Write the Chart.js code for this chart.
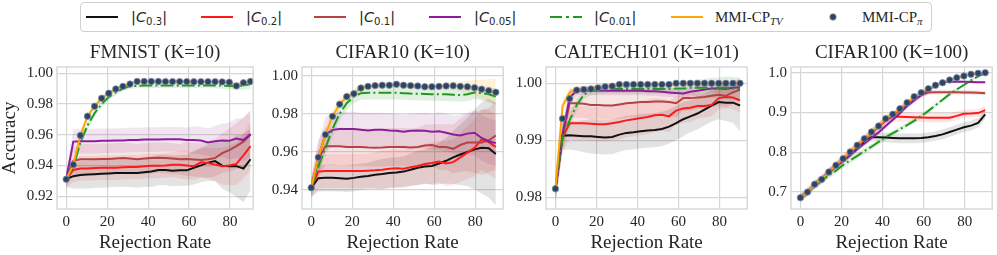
<!DOCTYPE html>
<html>
<head>
<meta charset="utf-8">
<script src="https://cdn.jsdelivr.net/npm/chart.js@4.4.1/dist/chart.umd.min.js"></script>
<style>
  body { margin: 0; background: #fff; width: 997px; height: 255px; overflow: hidden; position: relative; }
  canvas { position: absolute; }
  #legend { position: absolute; left: 80px; top: 2px; width: 850px; height: 28px; border: 1px solid #d0d0d0; border-radius: 4px; background: #fff; }
  .key { position: absolute; top: 8px; }
  .lab { position: absolute; top: 5px; font-size: 14.5px; color: #262626; white-space: nowrap; line-height: 18px; }
  .math { font-family: 'DejaVu Sans', sans-serif; }
  .math sub { font-size: 70%; vertical-align: -3px; line-height: 0; font-style: normal; }
  .serif { font-family: 'Liberation Serif', 'Times New Roman', serif; font-size: 15px; }
  .serif sub { font-size: 72%; vertical-align: -3px; line-height: 0; }
</style>
</head>
<body>
<div id="legend">
  <svg class="key" style="left:5px" width="32" height="14"><line x1="0" y1="6" x2="32" y2="6" stroke="#111" stroke-width="2"/></svg>
  <span class="lab math" style="left:50px">|<i>C</i><sub>0.3</sub>|</span>
  <svg class="key" style="left:120px" width="32" height="14"><line x1="0" y1="6" x2="32" y2="6" stroke="#ff1a1a" stroke-width="2"/></svg>
  <span class="lab math" style="left:165px">|<i>C</i><sub>0.2</sub>|</span>
  <svg class="key" style="left:233px" width="32" height="14"><line x1="0" y1="6" x2="32" y2="6" stroke="#b44343" stroke-width="2"/></svg>
  <span class="lab math" style="left:278px">|<i>C</i><sub>0.1</sub>|</span>
  <svg class="key" style="left:348px" width="32" height="14"><line x1="0" y1="6" x2="32" y2="6" stroke="#8e1d9c" stroke-width="2"/></svg>
  <span class="lab math" style="left:393px">|<i>C</i><sub>0.05</sub>|</span>
  <svg class="key" style="left:469px" width="32" height="14"><line x1="0" y1="6" x2="32" y2="6" stroke="#1f9a1f" stroke-width="2" stroke-dasharray="12,4,3,4"/></svg>
  <span class="lab math" style="left:513px">|<i>C</i><sub>0.01</sub>|</span>
  <svg class="key" style="left:590px" width="32" height="14"><line x1="0" y1="6" x2="32" y2="6" stroke="#ffa500" stroke-width="2"/></svg>
  <span class="lab serif" style="left:634px">MMI-CP<sub><i>TV</i></sub></span>
  <svg class="key" style="left:746px" width="12" height="14"><circle cx="6" cy="6" r="3.2" fill="#2e4466" stroke="#7f8ea3" stroke-width="0.8"/></svg>
  <span class="lab serif" style="left:781px">MMI-CP<sub><i>π</i></sub></span>
</div>

<canvas id="c0"></canvas>
<canvas id="c1"></canvas>
<canvas id="c2"></canvas>
<canvas id="c3"></canvas>

<script>
// rejection rate (%) on the x axis, shared by all panels
const rejection = [0, 3.46, 6.92, 10.38, 13.85, 17.31, 20.77, 24.23, 27.69, 31.15, 34.62, 38.08, 41.54, 45, 48.46, 51.92, 55.38, 58.85, 62.31, 65.77, 69.23, 72.69, 76.15, 79.62, 83.08, 86.54, 90];
const xTicks = [0, 20, 40, 60, 80];

// FMNIST (K=10)
const fmnistC03 = [0.931, 0.933, 0.9338, 0.934, 0.9343, 0.9345, 0.9348, 0.935, 0.935, 0.935, 0.935, 0.9355, 0.936, 0.937, 0.937, 0.9365, 0.9368, 0.9368, 0.9385, 0.940, 0.9418, 0.9428, 0.9398, 0.9395, 0.9395, 0.938, 0.944];
const fmnistC02 = [0.931, 0.937, 0.938, 0.938, 0.9383, 0.9385, 0.9385, 0.9385, 0.9388, 0.939, 0.939, 0.9395, 0.9398, 0.9398, 0.940, 0.9405, 0.9405, 0.940, 0.9395, 0.942, 0.9415, 0.9405, 0.9395, 0.940, 0.941, 0.9465, 0.9525];
const fmnistC01 = [0.931, 0.943, 0.944, 0.944, 0.944, 0.9442, 0.9442, 0.9445, 0.9448, 0.9445, 0.944, 0.9445, 0.9448, 0.945, 0.9448, 0.9445, 0.944, 0.9442, 0.9438, 0.9435, 0.944, 0.9448, 0.948, 0.950, 0.9525, 0.9555, 0.960];
const fmnistC005 = [0.931, 0.9555, 0.9558, 0.9558, 0.9558, 0.956, 0.956, 0.9562, 0.9562, 0.9565, 0.9565, 0.9568, 0.9568, 0.9568, 0.957, 0.957, 0.957, 0.9565, 0.9565, 0.9562, 0.955, 0.9558, 0.9562, 0.956, 0.9575, 0.9565, 0.9605];
const fmnistC001 = [0.931, 0.939, 0.955, 0.966, 0.974, 0.980, 0.9845, 0.9875, 0.990, 0.9915, 0.9918, 0.992, 0.992, 0.992, 0.992, 0.992, 0.992, 0.992, 0.992, 0.992, 0.9922, 0.992, 0.992, 0.9918, 0.9915, 0.992, 0.993];
const fmnistTv = [0.931, 0.9405, 0.9595, 0.972, 0.9785, 0.9837, 0.987, 0.9898, 0.9915, 0.993, 0.9947, 0.9947, 0.9947, 0.9947, 0.9946, 0.9946, 0.9946, 0.9946, 0.9945, 0.9945, 0.9945, 0.9945, 0.9944, 0.9942, 0.9918, 0.9938, 0.9947];
const fmnistPi = fmnistTv;
const fmnistC03Sd = [0.005, 0.008, 0.009, 0.009, 0.009, 0.009, 0.009, 0.009, 0.009, 0.009, 0.0095, 0.0095, 0.010, 0.010, 0.010, 0.010, 0.010, 0.010, 0.011, 0.011, 0.012, 0.013, 0.015, 0.017, 0.020, 0.022, 0.020];
const fmnistC02Sd = [0.005, 0.008, 0.008, 0.008, 0.008, 0.008, 0.008, 0.008, 0.008, 0.008, 0.008, 0.008, 0.008, 0.008, 0.008, 0.008, 0.009, 0.009, 0.009, 0.010, 0.010, 0.011, 0.012, 0.013, 0.014, 0.015, 0.016];
const fmnistC01Sd = [0.005, 0.009, 0.010, 0.010, 0.010, 0.010, 0.010, 0.010, 0.010, 0.010, 0.010, 0.010, 0.010, 0.010, 0.010, 0.010, 0.010, 0.011, 0.011, 0.011, 0.012, 0.012, 0.013, 0.014, 0.015, 0.016, 0.016];
const fmnistC005Sd = [0.005, 0.008, 0.008, 0.008, 0.008, 0.008, 0.008, 0.008, 0.008, 0.008, 0.008, 0.008, 0.008, 0.008, 0.008, 0.008, 0.008, 0.008, 0.009, 0.009, 0.009, 0.010, 0.011, 0.012, 0.013, 0.014, 0.015];
const fmnistC001Sd = [0.003, 0.003, 0.003, 0.003, 0.0025, 0.002, 0.002, 0.0018, 0.0015, 0.0015, 0.0015, 0.0015, 0.0015, 0.0015, 0.0015, 0.0015, 0.0015, 0.0015, 0.0015, 0.0015, 0.0015, 0.0018, 0.002, 0.002, 0.0025, 0.0028, 0.003];
const fmnistTvSd = [0.003, 0.003, 0.003, 0.0025, 0.002, 0.0018, 0.0015, 0.0012, 0.001, 0.001, 0.001, 0.001, 0.001, 0.001, 0.001, 0.001, 0.001, 0.001, 0.001, 0.001, 0.001, 0.0012, 0.0012, 0.0013, 0.0015, 0.0018, 0.002];

// CIFAR10 (K=10)
const cifar10C03 = [0.941, 0.946, 0.9462, 0.9462, 0.946, 0.9457, 0.9462, 0.9468, 0.9472, 0.9478, 0.9482, 0.9488, 0.949, 0.9495, 0.9505, 0.9515, 0.9522, 0.9525, 0.9538, 0.9552, 0.957, 0.9585, 0.9598, 0.9612, 0.962, 0.9618, 0.9588];
const cifar10C02 = [0.941, 0.9495, 0.9498, 0.9498, 0.9498, 0.9498, 0.9498, 0.9498, 0.950, 0.9502, 0.9505, 0.951, 0.9512, 0.951, 0.9518, 0.9525, 0.9535, 0.954, 0.9548, 0.9538, 0.9545, 0.957, 0.9595, 0.962, 0.9665, 0.965, 0.9625];
const cifar10C01 = [0.941, 0.956, 0.9628, 0.9628, 0.9628, 0.9625, 0.9625, 0.9625, 0.9622, 0.962, 0.9622, 0.9625, 0.9625, 0.9625, 0.9622, 0.9625, 0.9632, 0.9635, 0.9625, 0.9625, 0.9615, 0.9635, 0.9648, 0.9648, 0.9648, 0.966, 0.9685];
const cifar10C005 = [0.941, 0.957, 0.969, 0.9715, 0.972, 0.972, 0.972, 0.9715, 0.9712, 0.9715, 0.9715, 0.9712, 0.971, 0.9705, 0.971, 0.9712, 0.971, 0.9705, 0.9708, 0.970, 0.969, 0.9685, 0.9695, 0.970, 0.9672, 0.9655, 0.9645];
const cifar10C001 = [0.941, 0.952, 0.962, 0.972, 0.980, 0.9855, 0.989, 0.9908, 0.991, 0.991, 0.991, 0.991, 0.991, 0.9908, 0.9906, 0.9905, 0.9904, 0.9903, 0.9902, 0.9902, 0.990, 0.9898, 0.9902, 0.9912, 0.9908, 0.9902, 0.989];
const cifar10Tv = [0.941, 0.957, 0.969, 0.9786, 0.985, 0.989, 0.9905, 0.9935, 0.9944, 0.9948, 0.995, 0.995, 0.9955, 0.995, 0.9948, 0.9946, 0.9942, 0.9942, 0.9944, 0.9946, 0.9947, 0.9944, 0.9942, 0.9937, 0.9929, 0.9921, 0.9913];
const cifar10Pi = cifar10Tv;
const cifar10C03Sd = [0.005, 0.007, 0.007, 0.007, 0.007, 0.007, 0.007, 0.007, 0.007, 0.0075, 0.008, 0.008, 0.008, 0.008, 0.0085, 0.009, 0.009, 0.010, 0.011, 0.012, 0.014, 0.016, 0.018, 0.021, 0.024, 0.026, 0.027];
const cifar10C02Sd = [0.005, 0.009, 0.009, 0.009, 0.009, 0.009, 0.009, 0.009, 0.009, 0.0095, 0.010, 0.010, 0.010, 0.010, 0.010, 0.010, 0.0105, 0.011, 0.011, 0.012, 0.012, 0.013, 0.014, 0.015, 0.016, 0.017, 0.017];
const cifar10C01Sd = [0.005, 0.010, 0.010, 0.010, 0.010, 0.010, 0.010, 0.010, 0.010, 0.010, 0.010, 0.010, 0.010, 0.010, 0.010, 0.010, 0.011, 0.011, 0.012, 0.012, 0.013, 0.014, 0.015, 0.016, 0.017, 0.017, 0.018];
const cifar10C005Sd = [0.005, 0.008, 0.009, 0.009, 0.009, 0.009, 0.009, 0.009, 0.009, 0.009, 0.009, 0.009, 0.009, 0.009, 0.009, 0.009, 0.0095, 0.0095, 0.010, 0.010, 0.010, 0.011, 0.011, 0.012, 0.012, 0.012, 0.012];
const cifar10C001Sd = [0.003, 0.004, 0.004, 0.004, 0.0038, 0.0035, 0.0035, 0.0035, 0.0035, 0.0035, 0.0035, 0.0035, 0.0035, 0.0035, 0.0035, 0.0035, 0.0035, 0.0035, 0.0035, 0.0035, 0.0035, 0.0035, 0.0035, 0.0035, 0.0038, 0.004, 0.0042];
const cifar10TvSd = [0.003, 0.004, 0.004, 0.0035, 0.003, 0.0025, 0.002, 0.002, 0.0018, 0.0015, 0.0015, 0.0015, 0.0015, 0.0015, 0.0015, 0.0015, 0.0015, 0.0015, 0.0015, 0.0018, 0.002, 0.0025, 0.003, 0.004, 0.005, 0.006, 0.007];

// CALTECH101 (K=101)
const caltechC03 = [0.9815, 0.9908, 0.9909, 0.9908, 0.9907, 0.9907, 0.9906, 0.9905, 0.9906, 0.991, 0.9913, 0.9914, 0.9916, 0.9917, 0.9918, 0.992, 0.9924, 0.993, 0.9937, 0.9942, 0.9947, 0.9954, 0.9961, 0.9967, 0.9966, 0.9966, 0.9961];
const caltechC02 = [0.9815, 0.9905, 0.993, 0.993, 0.993, 0.9929, 0.9928, 0.9928, 0.993, 0.9932, 0.9935, 0.9937, 0.9939, 0.9941, 0.9944, 0.9945, 0.9942, 0.9952, 0.9956, 0.9957, 0.996, 0.996, 0.9962, 0.9974, 0.9976, 0.9975, 0.997];
const caltechC01 = [0.9815, 0.9905, 0.9965, 0.9965, 0.9964, 0.9962, 0.9962, 0.9961, 0.9961, 0.9963, 0.9965, 0.9966, 0.9967, 0.9967, 0.9968, 0.9968, 0.9967, 0.9965, 0.9974, 0.9974, 0.9975, 0.9976, 0.9978, 0.998, 0.9978, 0.9984, 0.9989];
const caltechC005 = [0.9815, 0.991, 0.9975, 0.9987, 0.9987, 0.9987, 0.9987, 0.9987, 0.9987, 0.9987, 0.9987, 0.9987, 0.9987, 0.9986, 0.9986, 0.9985, 0.9984, 0.9983, 0.9982, 0.9985, 0.9987, 0.9989, 0.9991, 0.9991, 0.999, 0.9992, 0.9993];
const caltechC001 = [0.9815, 0.9905, 0.9935, 0.9962, 0.998, 0.9987, 0.9989, 0.999, 0.999, 0.999, 0.999, 0.999, 0.999, 0.999, 0.999, 0.999, 0.999, 0.9991, 0.9991, 0.9992, 0.9992, 0.9992, 0.9992, 0.9992, 0.9992, 0.9991, 0.999];
const caltechTv = [0.9815, 0.996, 0.9984, 0.9989, 0.999, 0.9992, 0.9993, 0.9995, 0.9996, 0.9998, 0.9998, 0.9998, 0.9998, 0.9998, 0.9998, 0.9998, 0.9998, 0.9999, 1.0, 1.0, 1.0, 1.0, 1.0, 1.0, 1.0, 1.0, 1.0];
const caltechPi = [0.9815, 0.9938, 0.9973, 0.9988, 0.9989, 0.999, 0.9992, 0.9994, 0.9995, 0.9998, 0.9998, 0.9998, 0.9998, 0.9998, 0.9998, 0.9998, 0.9998, 1.0, 1.0, 1.0, 1.0, 1.0, 1.0, 1.0, 1.0, 1.0, 1.0];
const caltechC03Sd = [0.0025, 0.0025, 0.0025, 0.0026, 0.0028, 0.003, 0.003, 0.003, 0.003, 0.003, 0.003, 0.003, 0.003, 0.003, 0.003, 0.003, 0.003, 0.003, 0.003, 0.0028, 0.0028, 0.0028, 0.0028, 0.003, 0.0032, 0.0035, 0.0045];
const caltechC02Sd = [0.0025, 0.0025, 0.0028, 0.003, 0.003, 0.003, 0.003, 0.003, 0.003, 0.003, 0.003, 0.003, 0.003, 0.003, 0.003, 0.0028, 0.0028, 0.0025, 0.0025, 0.0025, 0.0022, 0.002, 0.002, 0.002, 0.002, 0.002, 0.0022];
const caltechC01Sd = [0.0025, 0.0025, 0.0025, 0.0025, 0.0025, 0.0025, 0.0025, 0.0025, 0.0025, 0.0025, 0.0025, 0.0025, 0.0025, 0.0025, 0.0025, 0.0025, 0.0025, 0.0025, 0.0022, 0.0022, 0.002, 0.002, 0.002, 0.002, 0.002, 0.002, 0.002];
const caltechC005Sd = [0.002, 0.002, 0.0012, 0.0008, 0.0008, 0.0008, 0.0008, 0.0008, 0.0008, 0.0008, 0.0008, 0.0008, 0.0008, 0.0008, 0.0008, 0.0008, 0.0008, 0.0008, 0.0008, 0.0008, 0.0008, 0.0008, 0.0008, 0.0008, 0.0008, 0.0008, 0.0008];
const caltechC001Sd = [0.002, 0.002, 0.0015, 0.001, 0.0008, 0.0008, 0.0008, 0.0008, 0.0008, 0.0008, 0.0008, 0.0008, 0.0008, 0.0008, 0.0008, 0.0008, 0.001, 0.001, 0.0012, 0.0012, 0.0015, 0.0015, 0.0018, 0.0018, 0.002, 0.002, 0.002];
const caltechTvSd = [0.002, 0.0012, 0.0008, 0.0006, 0.0005, 0.0005, 0.0005, 0.0005, 0.0005, 0.0005, 0.0005, 0.0005, 0.0005, 0.0005, 0.0005, 0.0005, 0.0005, 0.0005, 0.0005, 0.0005, 0.0005, 0.0005, 0.0005, 0.0005, 0.0005, 0.0005, 0.0005];

// CIFAR100 (K=100)
const cifar100C03 = [0.686, 0.700, 0.7196, 0.732, 0.7505, 0.766, 0.780, 0.795, 0.810, 0.826, 0.838, 0.838, 0.837, 0.836, 0.835, 0.835, 0.835, 0.836, 0.838, 0.841, 0.845, 0.851, 0.857, 0.863, 0.867, 0.874, 0.8955];
const cifar100C02 = [0.686, 0.700, 0.7196, 0.732, 0.7505, 0.767, 0.783, 0.799, 0.815, 0.831, 0.848, 0.864, 0.880, 0.889, 0.889, 0.8885, 0.888, 0.8875, 0.887, 0.887, 0.887, 0.887, 0.8915, 0.897, 0.8975, 0.8985, 0.906];
const cifar100C01 = [0.686, 0.700, 0.7196, 0.732, 0.7505, 0.767, 0.783, 0.800, 0.816, 0.832, 0.849, 0.864, 0.880, 0.892, 0.906, 0.920, 0.932, 0.943, 0.950, 0.951, 0.951, 0.951, 0.951, 0.9505, 0.950, 0.9495, 0.9485];
const cifar100C005 = [0.686, 0.700, 0.7196, 0.732, 0.7505, 0.765, 0.778, 0.792, 0.808, 0.822, 0.836, 0.850, 0.866, 0.882, 0.898, 0.916, 0.930, 0.944, 0.957, 0.968, 0.976, 0.977, 0.977, 0.977, 0.9765, 0.976, 0.976];
const cifar100C001 = [0.686, 0.698, 0.714, 0.729, 0.742, 0.754, 0.768, 0.780, 0.791, 0.803, 0.814, 0.826, 0.838, 0.848, 0.858, 0.868, 0.879, 0.891, 0.904, 0.918, 0.932, 0.946, 0.958, 0.969, 0.981, 0.991, 0.999];
const cifar100Tv = [0.686, 0.700, 0.7196, 0.732, 0.7505, 0.7673, 0.784, 0.8008, 0.8176, 0.8342, 0.851, 0.866, 0.8844, 0.8955, 0.9095, 0.9246, 0.9397, 0.9497, 0.9598, 0.9683, 0.9749, 0.9817, 0.9874, 0.9917, 0.996, 0.9985, 1.0];
const cifar100Pi = cifar100Tv;
const cifar100C03Sd = [0.008, 0.008, 0.008, 0.008, 0.008, 0.008, 0.008, 0.008, 0.009, 0.009, 0.010, 0.011, 0.012, 0.012, 0.012, 0.012, 0.012, 0.012, 0.012, 0.012, 0.012, 0.012, 0.012, 0.012, 0.012, 0.012, 0.012];
const cifar100C02Sd = [0.008, 0.008, 0.008, 0.008, 0.008, 0.008, 0.008, 0.009, 0.009, 0.010, 0.010, 0.011, 0.012, 0.012, 0.012, 0.012, 0.012, 0.012, 0.012, 0.012, 0.012, 0.011, 0.011, 0.010, 0.010, 0.010, 0.010];
const cifar100C01Sd = [0.012, 0.012, 0.012, 0.012, 0.012, 0.012, 0.012, 0.012, 0.012, 0.012, 0.012, 0.011, 0.011, 0.010, 0.010, 0.009, 0.008, 0.007, 0.006, 0.006, 0.006, 0.006, 0.006, 0.006, 0.006, 0.006, 0.006];
const cifar100C005Sd = [0.006, 0.006, 0.006, 0.006, 0.006, 0.006, 0.006, 0.006, 0.006, 0.006, 0.006, 0.006, 0.006, 0.006, 0.006, 0.006, 0.006, 0.005, 0.005, 0.004, 0.004, 0.004, 0.004, 0.004, 0.004, 0.004, 0.004];
const cifar100C001Sd = [0.008, 0.008, 0.008, 0.008, 0.008, 0.008, 0.008, 0.008, 0.008, 0.008, 0.007, 0.007, 0.007, 0.007, 0.006, 0.006, 0.006, 0.006, 0.006, 0.005, 0.005, 0.005, 0.004, 0.004, 0.004, 0.003, 0.003];
const cifar100TvSd = [0.008, 0.008, 0.008, 0.008, 0.008, 0.008, 0.008, 0.008, 0.008, 0.008, 0.008, 0.008, 0.008, 0.007, 0.007, 0.007, 0.006, 0.006, 0.005, 0.005, 0.005, 0.004, 0.004, 0.004, 0.003, 0.003, 0.003];

const seriesNames = ['|C0.3|', '|C0.2|', '|C0.1|', '|C0.05|', '|C0.01|', 'MMI-CP TV'];
const lineColors = ['#111111', '#ff1a1a', '#b44343', '#8e1d9c', '#1f9a1f', '#ffa500'];
const bandColors = ['rgba(0,0,0,0.11)', 'rgba(255,0,0,0.10)', 'rgba(170,40,40,0.12)', 'rgba(128,0,128,0.10)', 'rgba(34,139,34,0.13)', 'rgba(255,165,0,0.16)'];

const serif = "'Liberation Serif', 'Times New Roman', serif";
const textColor = '#262626';
const gridColor = '#d6d6d6';

// panel geometry (chart area in page pixels) and axis ranges
const panels = [
  { id: 'c0', title: 'FMNIST (K=10)', left: 57, right: 256, yw: 57, xMin: -4.5, xMax: 91.3, yMin: 0.9116, yMax: 1.0041,
    yTicks: [0.92, 0.94, 0.96, 0.98, 1.00], digits: 2, yLabel: true,
    vals: [fmnistC03, fmnistC02, fmnistC01, fmnistC005, fmnistC001, fmnistTv], pi: fmnistPi,
    sds: [fmnistC03Sd, fmnistC02Sd, fmnistC01Sd, fmnistC005Sd, fmnistC001Sd, fmnistTvSd] },
  { id: 'c1', title: 'CIFAR10 (K=10)', left: 302, right: 506, yw: 46, xMin: -4.5, xMax: 93.6, yMin: 0.9298, yMax: 1.0046,
    yTicks: [0.94, 0.96, 0.98, 1.00], digits: 2, yLabel: false,
    vals: [cifar10C03, cifar10C02, cifar10C01, cifar10C005, cifar10C001, cifar10Tv], pi: cifar10Pi,
    sds: [cifar10C03Sd, cifar10C02Sd, cifar10C01Sd, cifar10C005Sd, cifar10C001Sd, cifar10TvSd] },
  { id: 'c2', title: 'CALTECH101 (K=101)', left: 546, right: 750, yw: 46, xMin: -4.6, xMax: 93.5, yMin: 0.97795, yMax: 1.00286,
    yTicks: [0.98, 0.99, 1.00], digits: 2, yLabel: false,
    vals: [caltechC03, caltechC02, caltechC01, caltechC005, caltechC001, caltechTv], pi: caltechPi,
    sds: [caltechC03Sd, caltechC02Sd, caltechC01Sd, caltechC005Sd, caltechC001Sd, caltechTvSd] },
  { id: 'c3', title: 'CIFAR100 (K=100)', left: 791, right: 995, yw: 46, xMin: -4.6, xMax: 93.4, yMin: 0.6575, yMax: 1.0143,
    yTicks: [0.7, 0.8, 0.9, 1.0], digits: 1, yLabel: false,
    vals: [cifar100C03, cifar100C02, cifar100C01, cifar100C005, cifar100C001, cifar100Tv], pi: cifar100Pi,
    sds: [cifar100C03Sd, cifar100C02Sd, cifar100C01Sd, cifar100C005Sd, cifar100C001Sd, cifar100TvSd] }
];

function pts(vals) {
  return rejection.map((x, i) => ({ x: x, y: vals[i] }));
}
function edge(vals, sd, sign) {
  return rejection.map((x, i) => ({ x: x, y: vals[i] + sign * sd[i] }));
}

// frame around the plot area, drawn over the data like matplotlib spines
const framePlugin = {
  id: 'frame',
  afterDatasetsDraw(chart) {
    const a = chart.chartArea;
    const ctx = chart.ctx;
    ctx.save();
    ctx.strokeStyle = gridColor;
    ctx.lineWidth = 1.4;
    ctx.strokeRect(a.left, a.top, a.right - a.left, a.bottom - a.top);
    ctx.restore();
  }
};

panels.forEach(p => {
  const canvas = document.getElementById(p.id);
  const width = p.right - p.left + p.yw + 2;
  canvas.width = width;
  canvas.height = 220;
  canvas.style.left = (p.left - p.yw) + 'px';
  canvas.style.top = '35px';

  const datasets = [];
  // shaded bands first
  p.vals.forEach((v, k) => {
    datasets.push({ data: edge(v, p.sds[k], 1), borderWidth: 0, pointRadius: 0, fill: false, order: 20 + k });
    datasets.push({ data: edge(v, p.sds[k], -1), borderWidth: 0, pointRadius: 0, fill: '-1', backgroundColor: bandColors[k], order: 20 + k });
  });
  // mean curves, later methods on top
  p.vals.forEach((v, k) => {
    datasets.push({
      label: seriesNames[k],
      data: pts(v),
      borderColor: lineColors[k],
      borderWidth: 2,
      borderDash: k === 4 ? [12.8, 3.2, 2, 3.2] : [],
      pointRadius: 0,
      fill: false,
      tension: 0,
      order: 10 - k
    });
  });
  datasets.push({
    label: 'MMI-CP pi',
    data: pts(p.pi),
    showLine: false,
    pointRadius: 3.2,
    pointBackgroundColor: '#2e4466',
    pointBorderColor: '#7f8ea3',
    pointBorderWidth: 0.8,
    order: 0
  });

  new Chart(canvas, {
    type: 'line',
    data: { datasets: datasets },
    options: {
      responsive: false,
      animation: false,
      events: [],
      layout: { padding: { left: 0, right: 2, top: 0, bottom: 0 } },
      plugins: {
        legend: { display: false },
        tooltip: { enabled: false },
        title: {
          display: true,
          fullSize: false,
          text: p.title,
          color: textColor,
          font: { family: serif, size: 19, weight: 'normal', lineHeight: 1.2 },
          padding: { top: 6.9, bottom: 2.3 }
        }
      },
      scales: {
        x: {
          type: 'linear',
          min: p.xMin,
          max: p.xMax,
          afterBuildTicks: s => { s.ticks = xTicks.map(v => ({ value: v })); },
          afterFit: s => { s.height = 46; },
          grid: { color: gridColor, lineWidth: 1.2, drawTicks: false },
          border: { display: false },
          ticks: { color: textColor, font: { family: serif, size: 15, weight: 'normal' }, padding: 4, maxRotation: 0 },
          title: { display: true, text: 'Rejection Rate', color: textColor, font: { family: serif, size: 19, weight: 'normal', lineHeight: 1 }, padding: { top: 0, bottom: 2 } }
        },
        y: {
          min: p.yMin,
          max: p.yMax,
          afterBuildTicks: s => { s.ticks = p.yTicks.map(v => ({ value: v })); },
          afterFit: s => { s.width = p.yw; },
          grid: { color: gridColor, lineWidth: 1.2, drawTicks: false },
          border: { display: false },
          ticks: { color: textColor, font: { family: serif, size: 15, weight: 'normal' }, padding: 4, callback: v => v.toFixed(p.digits) },
          title: { display: p.yLabel, text: 'Accuracy', color: textColor, font: { family: serif, size: 19, weight: 'normal', lineHeight: 1 }, padding: { top: 1, bottom: 0 } }
        }
      }
    },
    plugins: [framePlugin]
  });
});
</script>
</body>
</html>
